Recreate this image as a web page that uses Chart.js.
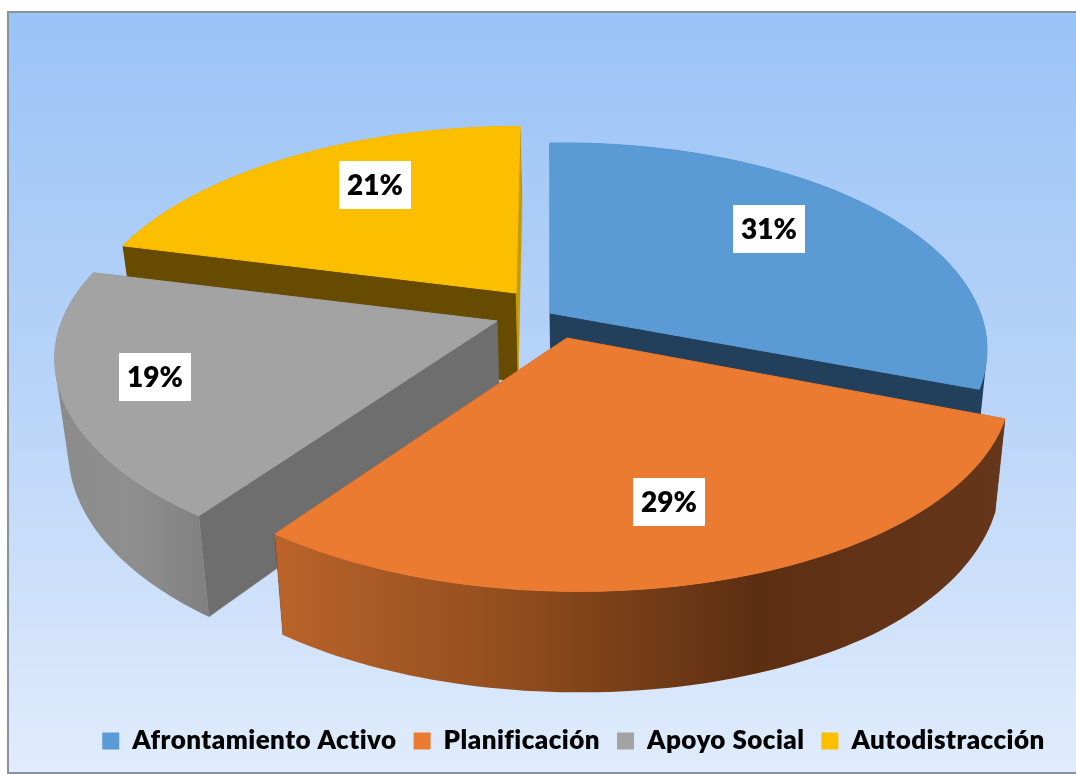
<!DOCTYPE html>
<html lang="es">
<head>
<meta charset="utf-8">
<title>Estrategias de afrontamiento</title>
<script src="https://cdn.jsdelivr.net/npm/chart.js@4"></script>
<style>html,body{margin:0;padding:0;background:#fff}canvas{display:block}</style>
</head>
<body>
<canvas id="c" width="1076" height="774"></canvas>
<script>
const categories = ["Afrontamiento Activo", "Planificación", "Apoyo Social", "Autodistracción"];
const values = [31, 29, 19, 21];
const topColors = ["#5b9bd5", "#eb7b30", "#a3a3a3", "#fcbf00"];

// Styling of the 3D look (not data)
const startWallColors = ["#223f5b", "#5d2f11", "#6e6e6e", "#664b00"];
const endWallColors = ["#223f5b", "#5d2f11", "#6e6e6e", "#c99a00"];
const endWallOverRim = [false, false, false, true];
const rimStops = [
  [[0, "#223f5b"], [1, "#223f5b"]],
  [[0.25, "#bb642a"], [0.45, "#96501f"], [0.7, "#5d2f11"], [0.93, "#66361a"]],
  [[0.05, "#8b8b8b"], [0.12, "#8f8f8f"], [0.2, "#7f7f7f"]],
  [[0, "#664b00"], [1, "#664b00"]]
];
const explodeOffsets = [[18, -3], [35, 22], [-35, 5], [-16, -23]];
const sliceScaleX = [0.99, 1, 1.005, 0.985];
const sliceScaleY = [1, 1.006, 1, 0.98];
const sliceSkewX = [0, 12, 6.5, -4];
const sliceSkewY = [-4.5, 0, 0, 0];
const labelCenters = [[769, 229], [669, 502], [155, 377], [375, 185]];
const paintOrder = [3, 0, 2, 1];
const camera = { cx: 532, cy: 316, sx: 433, sy: 203, p: 0.194, depth: 89, depthY: 15, depthMax: 101, vanishX: 600, k: 0.025 };
const frame = { left: 9, top: 13, right: 1076, bottom: 772 };

function project(i, phi) {
  const X = Math.cos(phi), Y = Math.sin(phi), w = 1 - camera.p * Y;
  return [camera.cx + explodeOffsets[i][0] + sliceScaleX[i] * camera.sx * X / w + sliceSkewX[i] * Y,
          camera.cy + explodeOffsets[i][1] + sliceScaleY[i] * camera.sy * Y / w + sliceSkewY[i] * X, Y];
}
function lower(pt) {
  return [pt[0] + (camera.vanishX - pt[0]) * camera.k,
          pt[1] + Math.min(camera.depthMax, camera.depth + camera.depthY * pt[2])];
}
function apex(i) {
  return [camera.cx + explodeOffsets[i][0], camera.cy + explodeOffsets[i][1], 0];
}
function samples(arc, i) {
  const a = arc.startAngle, b = arc.endAngle, n = 80, out = [];
  for (let s = 0; s <= n; s++) out.push(project(i, a + (b - a) * s / n));
  return out;
}
function trace(ctx, pts) {
  pts.forEach((p, j) => j ? ctx.lineTo(p[0], p[1]) : ctx.moveTo(p[0], p[1]));
  ctx.closePath();
}
function poly(ctx, pts, fill, lw) {
  ctx.beginPath();
  trace(ctx, pts);
  ctx.fillStyle = fill;
  ctx.fill();
  if (lw) {
    ctx.strokeStyle = fill;
    ctx.lineWidth = lw;
    ctx.stroke();
  }
}
function area(q) {
  let s = 0;
  q.forEach((p, j) => { const n = q[(j + 1) % q.length]; s += p[0] * n[1] - n[0] * p[1]; });
  return s;
}
function rimBand(ctx, rim, fill) {
  ctx.beginPath();
  for (let j = 0; j < rim.length - 1; j++) {
    const q = [rim[j], rim[j + 1], lower(rim[j + 1]), lower(rim[j])];
    trace(ctx, area(q) < 0 ? q.reverse() : q);
  }
  ctx.fillStyle = fill;
  ctx.fill();
}

const pie3d = {
  id: "pie3d",
  beforeLayout(chart) {
    chart.ctx.letterSpacing = "0.45px";
  },
  beforeDraw(chart) {
    const { ctx } = chart;
    const g = ctx.createLinearGradient(0, frame.top, 0, frame.bottom);
    g.addColorStop(0, "#9ac3f7");
    g.addColorStop(0.5, "#b9d4f8");
    g.addColorStop(1, "#e0ecfc");
    ctx.save();
    ctx.fillStyle = "#ffffff";
    ctx.fillRect(0, 0, chart.width, chart.height);
    ctx.fillStyle = g;
    ctx.fillRect(frame.left, frame.top, frame.right - frame.left, frame.bottom - frame.top);
    ctx.strokeStyle = "#8b9198";
    ctx.lineWidth = 2;
    ctx.strokeRect(frame.left - 1, frame.top - 1, frame.right - frame.left + 4, frame.bottom - frame.top + 2);
    ctx.restore();
  },
  beforeDatasetsDraw(chart) {
    const { ctx } = chart;
    const arcs = chart.getDatasetMeta(0).data;
    ctx.save();
    paintOrder.forEach(i => {
      const arc = arcs[i];
      const rim = samples(arc, i);
      const A = apex(i), lA = lower(A);
      const first = rim[0], last = rim[rim.length - 1];
      const g = ctx.createLinearGradient(0, 0, chart.width, 0);
      rimStops[i].forEach(s => g.addColorStop(s[0], s[1]));
      poly(ctx, [A, first, lower(first), lA], startWallColors[i], 0.5);
      if (!endWallOverRim[i]) poly(ctx, [A, last, lower(last), lA], endWallColors[i], 0.5);
      rimBand(ctx, rim, g);
      if (endWallOverRim[i]) poly(ctx, [A, last, lower(last), lA], endWallColors[i], 0.5);
      poly(ctx, [A].concat(rim), arc.options.backgroundColor, 1);
    });
    ctx.restore();
    return false;
  },
  afterDraw(chart) {
    const { ctx } = chart;
    ctx.save();
    ctx.letterSpacing = "0px";
    ctx.font = "800 28px Lato";
    ctx.textAlign = "center";
    ctx.textBaseline = "middle";
    values.forEach((v, i) => {
      const [x, y] = labelCenters[i];
      ctx.fillStyle = "#ffffff";
      ctx.fillRect(x - 36, y - 24, 72, 48);
      ctx.fillStyle = "#000000";
      ctx.fillText(v + "%", x, y + 1);
    });
    ctx.restore();
  }
};

new Chart(document.getElementById("c"), {
  type: "pie",
  data: {
    labels: categories,
    datasets: [{ data: values, backgroundColor: topColors, borderWidth: 0 }]
  },
  options: {
    responsive: false,
    animation: false,
    layout: { padding: { left: 71, bottom: 10, top: 14, right: 0 } },
    plugins: {
      tooltip: { enabled: false },
      legend: {
        position: "bottom",
        labels: {
          boxWidth: 17,
          boxHeight: 17,
          padding: 17,
          color: "#000000",
          font: { family: "Lato", weight: "800", size: 26 }
        }
      }
    }
  },
  plugins: [pie3d]
});
</script>
</body>
</html>
